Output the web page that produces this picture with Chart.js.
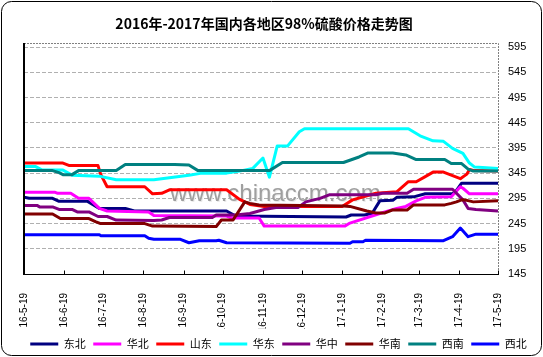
<!DOCTYPE html>
<html><head><meta charset="utf-8">
<script src="https://cdn.jsdelivr.net/npm/chart.js@4/dist/chart.umd.min.js"></script>
<style>html,body{margin:0;padding:0;background:#fff;}canvas{display:block;}</style>
</head><body>
<canvas id="c" width="543" height="357"></canvas>
<script>
const titleText = '2016年-2017年国内各地区98%硫酸价格走势图';
const monthLabels = ['16-5-19','16-6-19','16-7-19','16-8-19','16-9-19','16-10-19','16-11-19','16-12-19','17-1-19','17-2-19','17-3-19','17-4-19','17-5-19'];
const monthDays = [0,31,61,92,123,153,184,214,245,276,304,335,365];
const yTicks = [145,195,245,295,345,395,445,495,545,595];
const seriesNames = ['东北','华北','山东','华东','华中','华南','西南','西北'];
const seriesColors = ['#000080','#FF00FF','#FF0000','#00FFFF','#800080','#800000','#008080','#0000FF'];

// [day since 16-5-19, price]
const dongbei = [[0,297],[4,295],[22,295],[27,289],[49,289],[58,275],[78,275],[85,270],[156,270],[163,260],[248,258],[252,262],[262,262],[268,265],[274,290],[284,291],[287,297],[300,298],[309,304],[330,304],[333,311],[337,325],[365,325]];
const huabei = [[0,307],[24,307],[26,305],[36,305],[42,295],[50,295],[58,275],[64,270],[96,268],[100,261],[156,260],[160,256],[181,256],[185,240],[247,240],[251,246],[274,265],[287,275],[294,279],[302,290],[309,297],[329,298],[336,318],[338,315],[343,304],[365,304]];
const shandong = [[0,365],[30,365],[35,360],[57,360],[59,343],[64,318],[93,318],[99,304],[106,305],[112,312],[156,312],[166,293],[174,283],[185,279],[245,279],[253,292],[271,305],[287,308],[296,328],[302,328],[309,338],[315,347],[323,347],[327,343],[336,334],[341,343],[343,352],[347,350],[365,349]];
const huadong = [[0,358],[9,358],[14,351],[30,351],[37,341],[58,339],[71,332],[100,332],[127,341],[137,345],[156,345],[166,349],[176,354],[184,375],[189,337],[195,399],[203,399],[212,427],[216,433],[296,433],[305,419],[315,409],[323,408],[330,394],[338,384],[343,365],[347,357],[365,354]];
const huazhong = [[0,281],[10,281],[12,278],[22,278],[27,273],[37,273],[41,268],[50,268],[57,259],[64,259],[71,252],[100,251],[106,252],[112,257],[145,257],[148,262],[163,262],[174,265],[185,273],[194,277],[211,277],[217,288],[228,295],[235,302],[271,302],[276,305],[295,305],[300,313],[330,313],[338,292],[342,275],[348,273],[365,270]];
const huanan = [[0,264],[22,264],[28,255],[50,255],[55,249],[59,245],[93,245],[99,240],[148,239],[152,252],[161,252],[170,288],[174,285],[181,282],[246,280],[251,279],[264,270],[271,266],[278,266],[284,272],[295,272],[300,282],[324,282],[329,285],[333,288],[337,292],[341,291],[346,288],[365,290]];
const xinan = [[0,350],[22,350],[27,346],[30,342],[37,342],[42,350],[71,350],[78,362],[116,362],[127,361],[134,350],[189,350],[199,366],[246,366],[258,377],[265,385],[284,385],[294,381],[302,372],[324,372],[329,364],[337,364],[342,353],[346,349],[365,349]];
const xibei = [[0,223],[58,223],[59,221],[93,221],[96,216],[100,214],[120,214],[127,207],[135,211],[148,211],[150,212],[156,207],[251,206],[253,209],[261,209],[263,212],[323,211],[330,219],[336,236],[342,219],[348,224],[365,224]];

const seriesData = [dongbei, huabei, shandong, huadong, huazhong, huanan, xinan, xibei];
const CJK = '"Noto Sans CJK SC", "Noto Sans", sans-serif';
const LAT = '"Liberation Sans", Arial, sans-serif';

const framePlugin = {
  id: 'frame',
  beforeDraw(chart) {
    const ctx = chart.ctx;
    ctx.save(); ctx.fillStyle = '#fff'; ctx.fillRect(0, 0, chart.width, chart.height); ctx.restore();
  },
  afterLayout(chart) {
    const l = chart.legend; if (l) { const w = l.right - l.left; l.left = 7; l.right = 7 + w; l.top += 2.5; l.bottom += 2.5; }
    const t = chart.titleBlock; if (t) { const w = t.right - t.left; t.left = -7.5; t.right = -7.5 + w; }
  },
  beforeDatasetsDraw(chart) {
    const ctx = chart.ctx;
    ctx.save();
    ctx.font = '24px ' + LAT;
    ctx.textBaseline = 'alphabetic';
    ctx.fillStyle = 'rgba(235,235,235,1)';
    ctx.fillText('www.chinaccm.com', 171, 202);
    ctx.fillStyle = 'rgba(150,150,150,0.9)';
    ctx.fillText('www.chinaccm.com', 170, 201);
    ctx.restore();
  },
  afterDraw(chart) {
    const {ctx, chartArea: a, scales} = chart;
    ctx.save();
    ctx.strokeStyle = '#808080'; ctx.lineWidth = 1; ctx.setLineDash([2, 1]);
    ctx.beginPath();
    ctx.moveTo(a.left, Math.round(a.top) + 0.5);
    ctx.lineTo(Math.round(a.right) + 0.5, Math.round(a.top) + 0.5);
    ctx.lineTo(Math.round(a.right) + 0.5, a.bottom);
    ctx.stroke();
    ctx.setLineDash([]);
    ctx.strokeStyle = '#000';
    ctx.lineWidth = 2;
    ctx.beginPath(); ctx.moveTo(Math.round(a.left), a.top); ctx.lineTo(Math.round(a.left), a.bottom + 1); ctx.stroke();
    ctx.lineWidth = 1;
    ctx.beginPath();
    const yb = Math.round(a.bottom) + 0.5;
    ctx.moveTo(a.left, yb); ctx.lineTo(Math.round(a.right) + 1, yb);
    monthDays.forEach(d => {
      const x = Math.round(scales.x.getPixelForValue(d)) + 0.5;
      ctx.moveTo(x, yb); ctx.lineTo(x, yb - 4);
    });
    ctx.stroke();
    // outer rounded frame
    const r = 10, x0 = 1.5, y0 = 1.5, x1 = 541.5, y1 = 355.5;
    ctx.beginPath();
    ctx.moveTo(x0 + r, y0); ctx.lineTo(x1 - r, y0); ctx.arcTo(x1, y0, x1, y0 + r, r);
    ctx.lineTo(x1, y1 - r); ctx.arcTo(x1, y1, x1 - r, y1, r);
    ctx.lineTo(x0 + r, y1); ctx.arcTo(x0, y1, x0, y1 - r, r);
    ctx.lineTo(x0, y0 + r); ctx.arcTo(x0, y0, x0 + r, y0, r);
    ctx.closePath();
    ctx.lineWidth = 1; ctx.strokeStyle = '#000'; ctx.stroke();
    ctx.restore();
  }
};

const datasets = seriesNames.map((name, i) => ({
  label: name,
  data: seriesData[i].map(([x, y]) => ({x, y})),
  borderColor: seriesColors[i],
  backgroundColor: seriesColors[i],
  borderWidth: 3,
  pointRadius: 0,
  tension: 0,
  fill: false,
  borderJoinStyle: 'round',
  order: seriesNames.length - i,
  xAxisID: 'x',
  yAxisID: 'y'
}));

new Chart(document.getElementById('c'), {
  type: 'line',
  data: { datasets },
  plugins: [framePlugin],
  options: {
    responsive: false,
    animation: false,
    devicePixelRatio: 1,
    layout: { padding: 0 },
    plugins: {
      title: {
        display: true, text: titleText, color: '#000',
        font: { family: CJK, size: 14, weight: 'bold', lineHeight: 1.2 },
        padding: { top: 15, bottom: 11.2 }
      },
      legend: {
        display: true, position: 'bottom',
        labels: {
          boxWidth: 28, boxHeight: 3, padding: 7.5, color: '#000',
          font: { family: CJK, size: 11 },
          generateLabels(chart) {
            const items = Chart.defaults.plugins.legend.labels.generateLabels(chart);
            items.forEach(it => { it.lineWidth = 0; it.fillStyle = it.strokeStyle; });
            items.sort((p, q) => p.datasetIndex - q.datasetIndex);
            return items;
          }
        }
      },
      tooltip: { enabled: false }
    },
    scales: {
      x: {
        type: 'linear', position: 'bottom', min: 0, max: 365,
        grid: { display: false }, border: { display: false },
        afterBuildTicks(s) { s.ticks = monthDays.map(v => ({ value: v })); },
        afterFit(s) { s.height = 54.5; },
        ticks: {
          autoSkip: false, maxRotation: 90, minRotation: 90, padding: 11, color: '#000',
          font: { family: LAT, size: 10 },
          callback(v) { const i = monthDays.indexOf(v); return i >= 0 ? monthLabels[i] : ''; }
        }
      },
      y: {
        type: 'linear', position: 'right', min: 145, max: 603,
        afterBuildTicks(s) { s.ticks = yTicks.map(v => ({ value: v })); },
        afterFit(s) { s.width = 45; },
        grid: { color: '#b0b0b0', lineWidth: 1, drawTicks: false },
        border: { display: false, dash: [4, 2] },
        ticks: { padding: 10, color: '#000', font: { family: LAT, size: 11 } }
      },
      yL: {
        type: 'linear', position: 'left', display: true,
        grid: { display: false }, border: { display: false },
        ticks: { display: false },
        afterFit(s) { s.width = 24; }
      }
    }
  }
});
</script>
</body></html>
